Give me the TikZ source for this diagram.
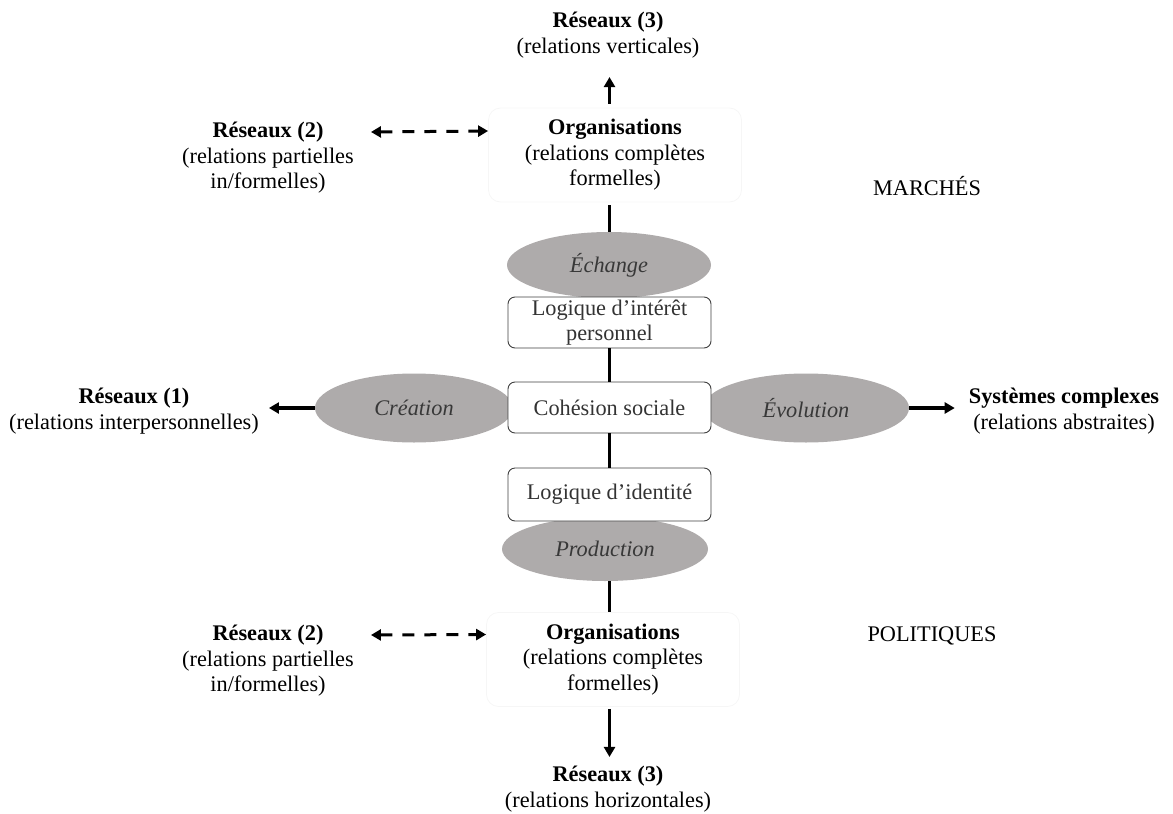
\documentclass[tikz,border=0pt]{standalone}
\usepackage{fontspec}
\setmainfont{Liberation Serif}
\usetikzlibrary{shapes.geometric,arrows.meta}
\definecolor{ellgray}{HTML}{AEABAB}
\definecolor{elltext}{HTML}{383838}
\definecolor{boxtext}{HTML}{333333}
\definecolor{boxline}{HTML}{404040}
\definecolor{orgline}{HTML}{F6F6F6}
\begin{document}
\begin{tikzpicture}[x=1pt,y=-1pt,
 every node/.style={font=\fontsize{22.3}{25.5}\selectfont, align=center},
 txt/.style={inner sep=0pt},
 ell/.style={ellipse, fill=ellgray, inner sep=0pt, text=elltext, font=\fontsize{22.3}{25.5}\selectfont\itshape},
 logbox/.style={rounded corners=7pt, draw=boxline, line width=0.9pt, fill=white, minimum width=203pt, minimum height=51pt, inner sep=1pt, text=boxtext},
 orgbox/.style={rounded corners=12pt, draw=orgline, line width=0.8pt, minimum width=253pt, minimum height=94pt, inner sep=0pt},
 conn/.style={line width=3.2pt},
 arrowline/.style={conn, -{Triangle[length=10pt,width=11pt]}},
 dasharrow/.style={line width=3pt, dash pattern=on 12pt off 10pt, {Triangle[length=10pt,width=11pt]}-{Triangle[length=10pt,width=11pt]}},
]
\useasboundingbox (0,0) rectangle (1173,814);

% ellipses
\node[ell, minimum width=204pt, minimum height=66pt] (ech) at (609,265) {Échange};
\node[ell, minimum width=198pt, minimum height=69pt] (cre) at (414,408) {Création};
\node[ell, minimum width=206pt, minimum height=69pt] (evo) at (806,408) {\raisebox{1pt}{Évolution}};
\node[ell, minimum width=206pt, minimum height=64pt] (prod) at (605,549) {Production};

% boxes
\node[logbox, minimum height=51pt] (logI) at (609.5,322.5) {Logique d’intérêt\\personnel};
\node[logbox] (coh) at (609.5,407.5) {Cohésion sociale};
\node[logbox, minimum height=53pt] (logId) at (609.5,494.5) {Logique d’identité};

\node[orgbox] (orgT) at (615,155) {\textbf{Organisations}\\(relations complètes\\formelles)};
\node[orgbox] (orgB) at (613,659.5) {\textbf{Organisations}\\(relations complètes\\formelles)};

% outer texts
\node[txt] (res3t) at (608,35) {\textbf{Réseaux (3)}\\(relations verticales)};
\node[txt] (res3b) at (608,789) {\textbf{Réseaux (3)}\\(relations horizontales)};
\node[txt] (res2t) at (268,158) {\textbf{Réseaux (2)}\\(relations partielles\\in/formelles)};
\node[txt] (res2b) at (268,661) {\textbf{Réseaux (2)}\\(relations partielles\\in/formelles)};
\node[txt] (res1) at (134,411) {\textbf{Réseaux (1)}\\(relations interpersonnelles)};
\node[txt] (sys) at (1064,411) {\textbf{Systèmes complexes}\\(relations abstraites)};
\node[txt] (marches) at (927,186) {MARCHÉS};
\node[txt] (polit) at (932,636) {POLITIQUES};

% connectors
\draw[arrowline, shorten <=4pt] (orgT.north -| coh.north) -- ([yshift=-19pt]res3t.south -| coh.north);
\draw[conn, shorten <=3pt] (orgT.south -| coh.north) -- (ech.north -| coh.north);
\draw[conn] (logI.south) -- (coh.north);
\draw[conn] (coh.south) -- (logId.north);
\draw[conn] (prod.south -| coh.south) -- (orgB.north -| coh.south);
\draw[arrowline, shorten <=2pt] (orgB.south -| coh.south) -- ([yshift=9pt]res3b.north -| coh.south);
\draw[arrowline] (cre.west) -- ([xshift=10pt]res1.east |- cre.west);
\draw[arrowline] (evo.east) -- ([xshift=-14pt]sys.west |- evo.east);
\draw[dasharrow] ([xshift=17pt,yshift=26pt]res2t.east) -- ([yshift=24pt]orgT.west);
\draw[dasharrow] ([xshift=17pt,yshift=26pt]res2b.east) -- ([yshift=25pt]orgB.west);
\end{tikzpicture}
\end{document}
